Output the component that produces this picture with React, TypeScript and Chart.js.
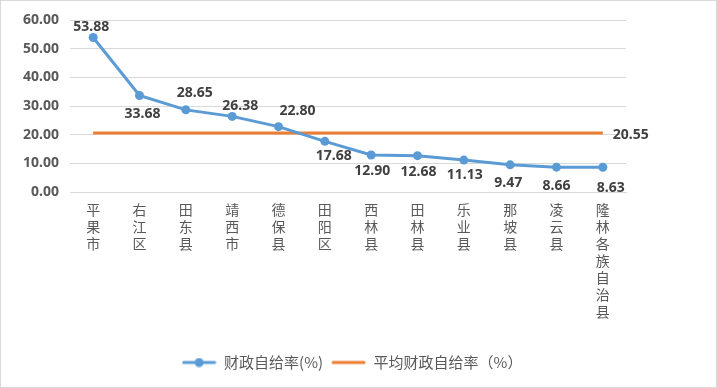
import React, { useEffect, useRef } from "react";
import { Chart, registerables } from "chart.js";

Chart.register(...registerables);

const categories = ["平果市", "右江区", "田东县", "靖西市", "德保县", "田阳区", "西林县", "田林县", "乐业县", "那坡县", "凌云县", "隆林各族自治县"];
const ratioValues = [53.88, 33.68, 28.65, 26.38, 22.8, 17.68, 12.9, 12.68, 11.13, 9.47, 8.66, 8.63];
const averageValue = 20.55;
const averageValues = categories.map(() => averageValue);
const seriesNames = ["财政自给率(%)", "平均财政自给率（%）"];

// label offsets [dx, dy] relative to each point (style only)
const labelOffsets: [number, number][] = [
  [-2, -11], [3, 19], [9, -17], [8, -10], [19, -16], [9, 15],
  [1, 16], [1, 16], [1, 15], [-2, 18], [0, 19], [8, 21],
];

const BLUE = "#5B9BD5";
const ORANGE = "#ED7D31";
const NUM_FONT = "'Noto Sans', 'Liberation Sans', sans-serif";
const CJK_FONT = "'Noto Sans CJK SC', 'Noto Sans', sans-serif";

function makeLegendIcon(color: string, withPoint: boolean) {
  const c = document.createElement("canvas");
  c.width = 35;
  c.height = 10;
  const ctx = c.getContext("2d")!;
  ctx.strokeStyle = color;
  ctx.lineWidth = 3;
  ctx.lineCap = "round";
  ctx.beginPath();
  ctx.moveTo(2, 5);
  ctx.lineTo(33, 5);
  ctx.stroke();
  if (withPoint) {
    ctx.fillStyle = color;
    ctx.beginPath();
    ctx.arc(17.5, 5, 4.5, 0, Math.PI * 2);
    ctx.fill();
  }
  return c;
}

const labelPlugin = {
  id: "valueLabels",
  afterDatasetsDraw(chart: any) {
    const ctx = chart.ctx;
    ctx.save();
    ctx.font = `bold 14px ${NUM_FONT}`;
    ctx.fillStyle = "#404040";
    ctx.textBaseline = "middle";
    const meta = chart.getDatasetMeta(0);
    meta.data.forEach((pt: any, i: number) => {
      const [dx, dy] = labelOffsets[i];
      ctx.textAlign = "center";
      ctx.fillText(ratioValues[i].toFixed(2), pt.x + dx, pt.y + dy);
    });
    const meta2 = chart.getDatasetMeta(1);
    const last = meta2.data[meta2.data.length - 1];
    if (last) {
      ctx.textAlign = "left";
      ctx.fillText(averageValue.toFixed(2), last.x + 10, last.y + 2);
    }
    ctx.restore();
  },
};

const borderPlugin = {
  id: "outerBorder",
  beforeDraw(chart: any) {
    const ctx = chart.ctx;
    ctx.save();
    ctx.fillStyle = "#ffffff";
    ctx.fillRect(0, 0, chart.width, chart.height);
    ctx.strokeStyle = "#d9d9d9";
    ctx.lineWidth = 1;
    ctx.strokeRect(0.5, 0.5, chart.width - 1, chart.height - 1);
    ctx.restore();
  },
};

export default function App() {
  const ref = useRef<HTMLCanvasElement>(null);
  useEffect(() => {
    document.body.style.margin = "0";
    const icons = [makeLegendIcon(BLUE, true), makeLegendIcon(ORANGE, false)];
    const chart = new Chart(ref.current!, {
      type: "line",
      data: {
        labels: categories.map((c) => Array.from(c)),
        datasets: [
          {
            label: seriesNames[0],
            data: ratioValues,
            borderColor: BLUE,
            backgroundColor: BLUE,
            borderWidth: 3,
            pointRadius: 4.5,
            pointBackgroundColor: BLUE,
            pointBorderWidth: 0,
            tension: 0,
          },
          {
            label: seriesNames[1],
            data: averageValues,
            borderColor: ORANGE,
            backgroundColor: ORANGE,
            borderWidth: 3,
            pointRadius: 0,
            tension: 0,
          },
        ],
      },
      options: {
        animation: false,
        responsive: false,
        layout: { padding: { left: 0, right: 13, top: 20, bottom: 8 } },
        scales: {
          x: {
            offset: true,
            grid: { display: false, drawTicks: false },
            border: { display: true, color: "#d9d9d9", width: 1 },
            ticks: {
              autoSkip: false,
              maxRotation: 0,
              minRotation: 0,
              padding: 9,
              color: "#595959",
              font: { family: CJK_FONT, size: 14, lineHeight: 1.22 },
            },
            afterFit(scale: any) {
              scale.height = 155;
            },
          },
          y: {
            min: 0,
            max: 60,
            grid: { color: "#d9d9d9", drawTicks: false },
            border: { display: false },
            ticks: {
              stepSize: 10,
              padding: 11,
              color: "#595959",
              font: { family: NUM_FONT, size: 14, weight: "bold" },
              callback: (v: any) => Number(v).toFixed(2),
            },
            afterFit(scale: any) {
              scale.width = 70;
            },
          },
          ySpacer: {
            position: "right",
            display: true,
            min: 0,
            max: 60,
            grid: { display: false, drawTicks: false },
            border: { display: false },
            ticks: { display: false },
            afterFit(scale: any) {
              scale.width = 78;
            },
          },
        },
        plugins: {
          tooltip: { enabled: false },
          legend: {
            position: "bottom",
            labels: {
              usePointStyle: true,
              pointStyleWidth: 35,
              boxHeight: 13,
              padding: 8,
              color: "#595959",
              font: { family: CJK_FONT, size: 15 },
              generateLabels: () =>
                seriesNames.map((name, i) => ({
                  text: name,
                  pointStyle: icons[i] as any,
                  fillStyle: i === 0 ? BLUE : ORANGE,
                  strokeStyle: i === 0 ? BLUE : ORANGE,
                  lineWidth: 0,
                  hidden: false,
                  datasetIndex: i,
                  fontColor: "#595959",
                })),
            },
          },
        },
      },
      plugins: [borderPlugin, labelPlugin],
    });
    return () => chart.destroy();
  }, []);
  return <canvas ref={ref} width={717} height={388} style={{ display: "block" }} />;
}
